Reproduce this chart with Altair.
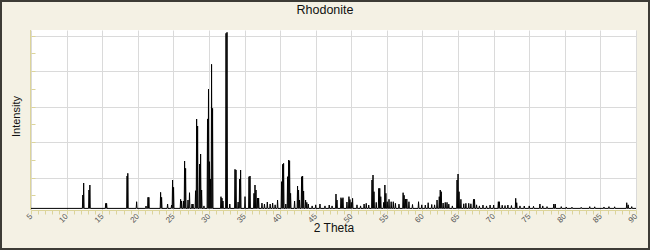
import altair as alt
import pandas as pd

# Peak positions (2 theta, degrees) and peak heights (counts)
two_theta = [
    12.28, 12.40, 13.15, 13.27, 15.50, 15.62, 18.50, 18.60, 19.84, 21.16,
    21.44, 21.56, 23.21, 23.35, 24.19, 24.75, 24.89, 25.03, 26.02, 26.16,
    26.44, 26.58, 26.72, 27.06, 27.27, 27.62, 27.76, 28.12, 28.27, 28.41,
    28.69, 28.83, 28.97, 29.30, 29.80, 29.94, 30.08, 30.22, 30.37, 30.51,
    31.69, 31.83, 31.97, 32.40, 32.54, 32.93, 33.66, 33.80, 34.10, 34.31,
    34.45, 35.07, 35.63, 35.77, 36.33, 36.47, 36.61, 36.84, 36.98, 37.45,
    37.80, 38.20, 38.60, 38.95, 39.30, 39.64, 40.21, 40.35, 40.49, 40.80,
    41.05, 41.19, 41.33, 41.47, 42.03, 42.45, 42.59, 42.73, 43.02, 43.16,
    43.30, 43.58, 43.75, 43.96, 44.50, 45.00, 45.60, 46.30, 46.90, 47.30,
    47.85, 47.99, 48.55, 48.69, 48.83, 49.39, 49.67, 49.81, 50.00, 50.18,
    50.80, 51.30, 51.80, 52.10, 52.45, 52.91, 53.05, 53.19, 53.50, 53.86,
    54.00, 54.14, 54.55, 54.72, 54.86, 55.05, 55.30, 55.60, 55.90, 56.20,
    56.70, 57.28, 57.42, 57.60, 57.80, 58.10, 58.60, 59.45, 59.90, 60.40,
    60.80, 61.30, 61.70, 62.05, 62.36, 62.50, 62.64, 62.90, 63.20, 63.45,
    63.70, 64.20, 64.86, 65.00, 65.14, 65.40, 65.80, 66.10, 66.50, 66.80,
    67.17, 67.31, 67.60, 68.00, 68.50, 69.00, 69.50, 70.00, 70.66, 70.80,
    71.20, 71.60, 72.00, 72.50, 73.10, 73.24, 73.70, 74.30, 75.00, 75.60,
    76.50, 76.90, 77.50, 78.45, 78.65, 79.50, 80.20, 81.00, 82.30, 83.50,
    84.20, 85.50, 86.20, 87.00, 88.70, 88.90, 89.40,
]
intensity = [
    507, 845, 648, 789, 273, 273, 1042, 1118, 318, 197,
    442, 442, 583, 442, 254, 225, 930, 724, 386, 338,
    338, 1465, 1259, 366, 572, 254, 254, 628, 2648, 2451,
    1380, 1662, 648, 200, 2650, 3493, 1445, 958, 4189, 2949,
    460, 420, 338, 5062, 5090, 254, 1231, 1213, 310, 958,
    1211, 462, 1023, 1042, 555, 789, 648, 423, 423, 280,
    254, 310, 254, 280, 230, 366, 883, 1371, 1399, 254,
    1023, 1493, 1474, 555, 338, 761, 648, 366, 1023, 1042,
    620, 366, 300, 254, 200, 230, 254, 200, 225, 200,
    535, 366, 432, 400, 432, 310, 462, 380, 300, 414,
    230, 200, 254, 273, 225, 930, 1070, 600, 300, 695,
    695, 460, 300, 789, 555, 318, 386, 318, 318, 273,
    250, 572, 500, 395, 395, 318, 240, 318, 230, 225,
    290, 240, 230, 366, 460, 648, 600, 282, 300, 300,
    250, 200, 930, 1099, 600, 386, 260, 273, 273, 260,
    386, 386, 230, 200, 225, 200, 225, 225, 318, 318,
    220, 210, 225, 210, 414, 290, 200, 197, 200, 190,
    254, 200, 180, 254, 254, 180, 170, 165, 160, 180,
    175, 170, 180, 175, 290, 230, 180,
]
background_counts = 130          # flat background level between peaks
half_width = 0.06                # half width of each peak foot, degrees

x_ticks = list(range(5, 91))                 # minor ticks every degree
y_ticks = list(range(500, 5001, 500))        # ticks every 500 counts

rows = [{"t": 5.0, "c": background_counts}]
for t, c in zip(two_theta, intensity):
    rows.append({"t": t - half_width, "c": background_counts})
    rows.append({"t": t, "c": c})
    rows.append({"t": t + half_width, "c": background_counts})
rows.append({"t": 90.0, "c": background_counts})
df = pd.DataFrame(rows)

AXIS_YEL = "#dcd49a"
GRID = "#dadada"
FONT = "Liberation Sans"

line = alt.Chart(df).mark_line(color="black", strokeWidth=1).encode(
    x=alt.X(
        "t:Q",
        scale=alt.Scale(domain=[5, 90], nice=False, zero=False),
        axis=alt.Axis(
            values=x_ticks,
            title="2 Theta",
            titleFont=FONT,
            titleFontSize=12,
            titleFontWeight="normal",
            titleColor="#111111",
            titleBaseline="alphabetic",
            titleY=21,
            labelExpr="datum.value % 5 === 0 ? datum.label : ''",
            labelAngle=-45,
            labelAlign="right",
            labelBaseline="middle",
            labelFont=FONT,
            labelFontSize=8,
            labelColor="#555555",
            labelPadding=1,
            labelOverlap=False,
            tickColor=AXIS_YEL,
            tickSize=4,
            domainColor=AXIS_YEL,
            gridColor=GRID,
            gridOpacity={"condition": {"test": "datum.value % 5 === 0", "value": 1}, "value": 0},
        ),
    ),
    y=alt.Y(
        "c:Q",
        scale=alt.Scale(domain=[85, 5155], nice=False, zero=False),
        axis=alt.Axis(
            values=y_ticks,
            labels=False,
            domain=False,
            offset=-4,
            tickSize=4,
            tickColor=AXIS_YEL,
            title="Intensity",
            titleFont=FONT,
            titleFontSize=11,
            titleFontWeight="normal",
            titleColor="#111111",
            titleX=-14,
            titleY=86,
            gridColor=GRID,
            gridOpacity={"condition": {"test": "datum.value % 1000 === 0", "value": 1}, "value": 0},
        ),
    ),
)

one = pd.DataFrame({"k": [1]})
y_domain = alt.Chart(one).mark_rule(color=AXIS_YEL, strokeWidth=1).encode(
    x=alt.value(-0.5), y=alt.value(0), y2=alt.value(180)
)
frame = alt.Chart(one).mark_rect(fill="transparent", stroke="#3d3c36", strokeWidth=2).encode(
    x=alt.value(-30), x2=alt.value(618), y=alt.value(-29), y2=alt.value(219)
)
title = alt.Chart(one).mark_text(
    font=FONT, fontSize=12.5, color="#111111", align="center", baseline="alphabetic"
).encode(x=alt.value(294), y=alt.value(-16), text=alt.value("Rhodonite"))

chart = alt.layer(line, y_domain, frame, title).properties(
    width=605,
    height=180,
    autosize=alt.AutoSizeParams(type="none"),
    padding={"left": 31, "top": 30, "right": 14, "bottom": 40},
).configure(background="#f4f1e4").configure_view(fill="white", stroke=None)

chart.save("out.html", embed_options={"renderer": "svg", "actions": False})
